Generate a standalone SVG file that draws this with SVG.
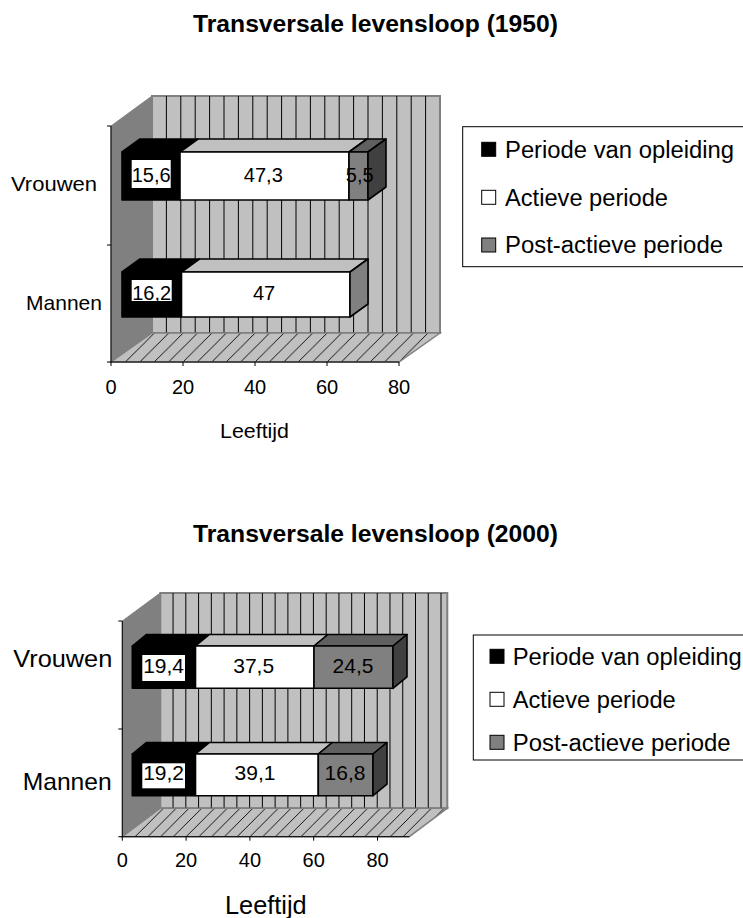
<svg xmlns="http://www.w3.org/2000/svg" width="743" height="918" viewBox="0 0 743 918">
<style>
text{font-family:"Liberation Sans",Arial,sans-serif;fill:#000}
.title{font-size:23px;font-weight:bold}
.cat1{font-size:21px}
.cat2{font-size:24px}
.tick{font-size:20px;text-anchor:middle}
.ax1{font-size:21px}
.ax2{font-size:25px}
.lbl1{font-size:20px;text-anchor:middle}
.lbl2{font-size:21px;text-anchor:middle}
.leg{font-size:23px}
.wall{fill:#808080;stroke:#808080;stroke-width:1}
.back{fill:#c0c0c0;stroke:#808080;stroke-width:2}
.grid{stroke:#000;stroke-width:1}
.axis{stroke:#000;stroke-width:1;fill:none}
.bar{stroke:#000;stroke-width:1.6;stroke-linejoin:round}
.blk{fill:#000}
.wht{fill:#fff}
.wtop{fill:#c0c0c0}
.gry{fill:#808080}
.gtop{fill:#606060}
.gside{fill:#404040}
.box{fill:#fff}
.legbox{fill:#fff;stroke:#000;stroke-width:1}
.sq{stroke:#000;stroke-width:1}
</style>
<defs>
<pattern id="hatch1" patternUnits="userSpaceOnUse" x="111" y="362" width="14.4" height="14.4">
<rect width="14.4" height="14.4" fill="#c0c0c0"/>
<path d="M0,14.4 L14.4,0 M-2,2 L2,-2 M12.4,16.4 L16.4,12.4" stroke="#000" stroke-width="0.9"/>
</pattern>
<pattern id="hatch2" patternUnits="userSpaceOnUse" x="122.3" y="836.7" width="12.76" height="12.76">
<rect width="12.76" height="12.76" fill="#c0c0c0"/>
<path d="M0,12.76 L12.76,0 M-2,2 L2,-2 M10.76,14.76 L14.76,10.76" stroke="#000" stroke-width="0.9"/>
</pattern>
</defs>

<!-- ===== Chart 1 (1950) ===== -->
<g id="chart1-title"><text class="title" x="193" y="32" textLength="365" lengthAdjust="spacingAndGlyphs">Transversale levensloop (1950)</text></g>

<g id="chart1-frame">
<polygon class="wall" points="111,126 152,96 152,333 111,362"/>
<rect class="back" x="152" y="96" width="288" height="237"/>
<g class="grid">
<line x1="166.4" y1="96" x2="166.4" y2="333"/><line x1="180.8" y1="96" x2="180.8" y2="333"/>
<line x1="195.2" y1="96" x2="195.2" y2="333"/><line x1="209.6" y1="96" x2="209.6" y2="333"/>
<line x1="224" y1="96" x2="224" y2="333"/><line x1="238.4" y1="96" x2="238.4" y2="333"/>
<line x1="252.8" y1="96" x2="252.8" y2="333"/><line x1="267.2" y1="96" x2="267.2" y2="333"/>
<line x1="281.6" y1="96" x2="281.6" y2="333"/><line x1="296" y1="96" x2="296" y2="333"/>
<line x1="310.4" y1="96" x2="310.4" y2="333"/><line x1="324.8" y1="96" x2="324.8" y2="333"/>
<line x1="339.2" y1="96" x2="339.2" y2="333"/><line x1="353.6" y1="96" x2="353.6" y2="333"/>
<line x1="368" y1="96" x2="368" y2="333"/><line x1="382.4" y1="96" x2="382.4" y2="333"/>
<line x1="396.8" y1="96" x2="396.8" y2="333"/><line x1="411.2" y1="96" x2="411.2" y2="333"/>
<line x1="425.6" y1="96" x2="425.6" y2="333"/>
</g>
<polygon points="111,362 152,333 440,333 399,362" fill="url(#hatch1)" stroke="#808080" stroke-width="1.5"/>
<path class="axis" d="M111,126 V362 H399 M107,126 H111 M107,245 H111 M107,362 H111 M111,362 V366 M183,362 V366 M255,362 V366 M327,362 V366 M399,362 V366"/>
</g>

<g id="chart1-vrouwen">
<polygon class="bar blk" points="122,152 140,139 198,139 180,152"/>
<rect class="bar blk" x="122" y="152" width="58" height="48"/>
<polygon class="bar wtop" points="180,152 198,139 367,139 349,152"/>
<rect class="bar wht" x="180" y="152" width="169" height="48"/>
<polygon class="bar gtop" points="349,152 367,139 386,139 368,152"/>
<rect class="bar gry" x="349" y="152" width="19" height="48"/>
<polygon class="bar gside" points="368,152 386,139 386,187 368,200"/>
<rect class="box" x="131.7" y="160" width="39" height="28"/>
<text class="lbl1" x="151.2" y="181.7">15,6</text>
<text class="lbl1" x="263.3" y="181.7">47,3</text>
<text class="lbl1" x="359.7" y="181.7">5,5</text>
</g>

<g id="chart1-mannen">
<polygon class="bar blk" points="122,272 140,259 199.5,259 181.5,272"/>
<rect class="bar blk" x="122" y="272" width="59.5" height="45"/>
<polygon class="bar wtop" points="181.5,272 199.5,259 368,259 350,272"/>
<rect class="bar wht" x="181.5" y="272" width="168.5" height="45"/>
<polygon class="bar gry" points="350,272 368,259 368,304 350,317"/>
<rect class="box" x="131.7" y="280" width="40" height="21"/>
<text class="lbl1" x="151.7" y="300">16,2</text>
<text class="lbl1" x="264" y="300">47</text>
</g>

<g id="chart1-axis-labels">
<text class="cat1" x="11" y="190.7" textLength="86" lengthAdjust="spacingAndGlyphs">Vrouwen</text>
<text class="cat1" x="26" y="310" textLength="76" lengthAdjust="spacingAndGlyphs">Mannen</text>
<text class="tick" x="111" y="394.3">0</text>
<text class="tick" x="183" y="394.3">20</text>
<text class="tick" x="255" y="394.3">40</text>
<text class="tick" x="327" y="394.3">60</text>
<text class="tick" x="399" y="394.3">80</text>
<text class="ax1" x="220" y="438.3" textLength="69" lengthAdjust="spacingAndGlyphs">Leeftijd</text>
</g>

<g id="chart1-legend">
<rect class="legbox" x="462.7" y="126.7" width="300" height="140"/>
<rect class="sq blk" x="481.7" y="142.3" width="14" height="14"/>
<text class="leg" x="505" y="157.5" textLength="229" lengthAdjust="spacingAndGlyphs">Periode van opleiding</text>
<rect class="sq wht" x="481.7" y="190.3" width="14" height="14"/>
<text class="leg" x="505" y="205.5" textLength="163" lengthAdjust="spacingAndGlyphs">Actieve periode</text>
<rect class="sq gry" x="481.7" y="238" width="14" height="14"/>
<text class="leg" x="505" y="253.2" textLength="218" lengthAdjust="spacingAndGlyphs">Post-actieve periode</text>
</g>

<!-- ===== Chart 2 (2000) ===== -->
<g id="chart2-title"><text class="title" x="193" y="542" textLength="365" lengthAdjust="spacingAndGlyphs">Transversale levensloop (2000)</text></g>

<g id="chart2-frame">
<polygon class="wall" points="122.3,621 160.3,593 160.3,808.2 122.3,836.7"/>
<rect class="back" x="160.3" y="593" width="287" height="215.2"/>
<g class="grid">
<line x1="173.06" y1="593" x2="173.06" y2="808.2"/><line x1="185.82" y1="593" x2="185.82" y2="808.2"/>
<line x1="198.58" y1="593" x2="198.58" y2="808.2"/><line x1="211.34" y1="593" x2="211.34" y2="808.2"/>
<line x1="224.1" y1="593" x2="224.1" y2="808.2"/><line x1="236.86" y1="593" x2="236.86" y2="808.2"/>
<line x1="249.62" y1="593" x2="249.62" y2="808.2"/><line x1="262.38" y1="593" x2="262.38" y2="808.2"/>
<line x1="275.14" y1="593" x2="275.14" y2="808.2"/><line x1="287.9" y1="593" x2="287.9" y2="808.2"/>
<line x1="300.66" y1="593" x2="300.66" y2="808.2"/><line x1="313.42" y1="593" x2="313.42" y2="808.2"/>
<line x1="326.18" y1="593" x2="326.18" y2="808.2"/><line x1="338.94" y1="593" x2="338.94" y2="808.2"/>
<line x1="351.7" y1="593" x2="351.7" y2="808.2"/><line x1="364.46" y1="593" x2="364.46" y2="808.2"/>
<line x1="377.22" y1="593" x2="377.22" y2="808.2"/><line x1="389.98" y1="593" x2="389.98" y2="808.2"/>
<line x1="402.74" y1="593" x2="402.74" y2="808.2"/><line x1="415.5" y1="593" x2="415.5" y2="808.2"/>
<line x1="428.26" y1="593" x2="428.26" y2="808.2"/><line x1="441.02" y1="593" x2="441.02" y2="808.2"/>
</g>
<polygon points="122.3,836.7 160.3,808.2 447.3,808.2 409.3,836.7" fill="url(#hatch2)" stroke="#808080" stroke-width="1.5"/>
<path class="axis" d="M122.3,621 V836.7 H409.3 M118.3,621 H122.3 M118.3,729 H122.3 M118.3,836.7 H122.3 M122.3,836.7 V840.7 M186.1,836.7 V840.7 M249.9,836.7 V840.7 M313.7,836.7 V840.7 M377.5,836.7 V840.7"/>
</g>

<g id="chart2-vrouwen">
<polygon class="bar blk" points="132.3,646 146.3,634.5 209.5,634.5 195.5,646"/>
<rect class="bar blk" x="132.3" y="646" width="63.2" height="42.3"/>
<polygon class="bar wtop" points="195.5,646 209.5,634.5 328,634.5 314,646"/>
<rect class="bar wht" x="195.5" y="646" width="118.5" height="42.3"/>
<polygon class="bar gtop" points="314,646 328,634.5 407,634.5 393,646"/>
<rect class="bar gry" x="314" y="646" width="79" height="42.3"/>
<polygon class="bar gside" points="393,646 407,634.5 407,676.8 393,688.3"/>
<rect class="box" x="142.3" y="655" width="42.7" height="26"/>
<text class="lbl2" x="163.6" y="673.3">19,4</text>
<text class="lbl2" x="253.7" y="673.3">37,5</text>
<text class="lbl2" x="353" y="673.3">24,5</text>
</g>

<g id="chart2-mannen">
<polygon class="bar blk" points="132.3,754 146.3,742.5 209.5,742.5 195.5,754"/>
<rect class="bar blk" x="132.3" y="754" width="63.2" height="41.7"/>
<polygon class="bar wtop" points="195.5,754 209.5,742.5 332.3,742.5 318.3,754"/>
<rect class="bar wht" x="195.5" y="754" width="122.8" height="41.7"/>
<polygon class="bar gtop" points="318.3,754 332.3,742.5 387,742.5 373,754"/>
<rect class="bar gry" x="318.3" y="754" width="54.7" height="41.7"/>
<polygon class="bar gside" points="373,754 387,742.5 387,784.2 373,795.7"/>
<rect class="box" x="142.3" y="763.3" width="42.7" height="25"/>
<text class="lbl2" x="163.6" y="780">19,2</text>
<text class="lbl2" x="255" y="780">39,1</text>
<text class="lbl2" x="345" y="780">16,8</text>
</g>

<g id="chart2-axis-labels">
<text class="cat2" x="13.3" y="667.3" textLength="99" lengthAdjust="spacingAndGlyphs">Vrouwen</text>
<text class="cat2" x="22.7" y="790" textLength="89" lengthAdjust="spacingAndGlyphs">Mannen</text>
<text class="tick" x="122.3" y="866.7">0</text>
<text class="tick" x="186.1" y="866.7">20</text>
<text class="tick" x="249.9" y="866.7">40</text>
<text class="tick" x="313.7" y="866.7">60</text>
<text class="tick" x="377.5" y="866.7">80</text>
<text class="ax2" x="225" y="914" textLength="81.7" lengthAdjust="spacingAndGlyphs">Leeftijd</text>
</g>

<g id="chart2-legend">
<rect class="legbox" x="473.3" y="635" width="300" height="125"/>
<rect class="sq blk" x="490" y="649.3" width="14" height="14"/>
<text class="leg" x="512.7" y="664.5" textLength="229" lengthAdjust="spacingAndGlyphs">Periode van opleiding</text>
<rect class="sq wht" x="490" y="692.3" width="14" height="14"/>
<text class="leg" x="512.7" y="707.5" textLength="163" lengthAdjust="spacingAndGlyphs">Actieve periode</text>
<rect class="sq gry" x="490" y="735.3" width="14" height="14"/>
<text class="leg" x="512.7" y="750.5" textLength="218" lengthAdjust="spacingAndGlyphs">Post-actieve periode</text>
</g>
</svg>
